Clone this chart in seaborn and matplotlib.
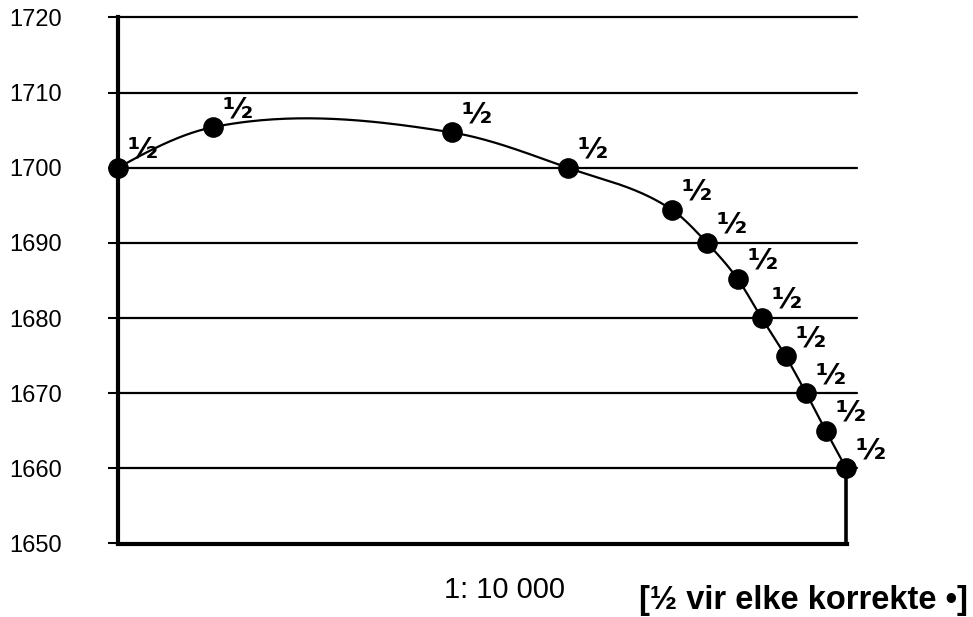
import numpy as np
import matplotlib
matplotlib.use("Agg")
import matplotlib.pyplot as plt
import seaborn as sns
import pandas as pd

# Data
distance = [0.0, 1.30, 4.58, 6.17, 7.60, 8.08, 8.50, 8.83, 9.16, 9.44, 9.71, 9.99]
height = [1700.0, 1705.4, 1704.7, 1700.0, 1694.4, 1690.0, 1685.2, 1680.0, 1674.9, 1670.0, 1665.0, 1660.0]
point_labels = ["½"] * len(distance)
y_ticks = [1650, 1660, 1670, 1680, 1690, 1700, 1710, 1720]
scale_text = "1: 10 000"
mark_text = "[½ vir elke korrekte •]"

sns.set_theme(style="white")
plt.rcParams['font.family'] = ['Liberation Sans', 'DejaVu Sans']
plt.rcParams['text.color'] = 'black'
plt.rcParams['ytick.color'] = 'black'
plt.rcParams['ytick.labelcolor'] = 'black'

df = pd.DataFrame({"distance": distance, "height": height})


def smooth_curve(x, y, per_seg=60):
    """Cubic Hermite curve through the points (mean-of-secants tangents)."""
    x = np.asarray(x, float)
    y = np.asarray(y, float)
    h = np.diff(x)
    d = np.diff(y) / h
    k = len(x)
    m = np.zeros(k)
    for i in range(1, k - 1):
        m[i] = 0.5 * (d[i - 1] + d[i])
    m[0] = ((2 * h[0] + h[1]) * d[0] - h[0] * d[1]) / (h[0] + h[1])
    m[-1] = d[-1]
    xs_all, ys_all = [], []
    for i in range(k - 1):
        t = np.linspace(0, 1, per_seg)
        h00 = 2 * t ** 3 - 3 * t ** 2 + 1
        h10 = t ** 3 - 2 * t ** 2 + t
        h01 = -2 * t ** 3 + 3 * t ** 2
        h11 = t ** 3 - t ** 2
        xs_all.append(x[i] + t * h[i])
        ys_all.append(h00 * y[i] + h10 * h[i] * m[i] + h01 * y[i + 1] + h11 * h[i] * m[i + 1])
    return np.concatenate(xs_all), np.concatenate(ys_all)


fig = plt.figure(figsize=(9.73, 6.17), dpi=100)
ax = fig.add_axes([118 / 973, 1 - 543.5 / 617, 729 / 973, 526 / 617])

ax.set_xlim(0, 10)
ax.set_ylim(1650, 1720)

for yv in y_ticks[1:]:
    ax.plot([0, 10.14], [yv, yv], color="black", lw=1.6, clip_on=False, zorder=1)

xs, ys = smooth_curve(distance, height)
sns.lineplot(x=xs, y=ys, ax=ax, color="black", lw=1.6, zorder=2, sort=False)
sns.scatterplot(data=df, x="distance", y="height", ax=ax, color="black", s=190,
                edgecolor="black", zorder=3, clip_on=False)

ax.plot([distance[-1], distance[-1]], [1650, height[-1]], color="black", lw=2.6,
        clip_on=False, zorder=2)

for xv, yv, lab in zip(distance, height, point_labels):
    ax.annotate(lab, (xv, yv), xytext=(7, 3), textcoords="offset points",
                fontsize=21, fontweight="bold", ha="left", va="bottom",
                family=['DejaVu Sans'], color="black", annotation_clip=False)

for s in ["top", "right"]:
    ax.spines[s].set_visible(False)
for s in ["left", "bottom"]:
    ax.spines[s].set_visible(True)
    ax.spines[s].set_color("black")
    ax.spines[s].set_linewidth(3)

ax.set_yticks(y_ticks)
ax.set_yticklabels([str(v) for v in y_ticks], fontsize=17)
ax.set_xticks([])
ax.tick_params(axis="y", direction="out", length=7.5, width=1.5, color="black",
               pad=33, left=True, labelcolor="black")
ax.set_xlabel("")
ax.set_ylabel("")
ax.grid(False)

fig.text(505 / 973, 1 - 590 / 617, scale_text, fontsize=21, ha="center", va="center",
         color="black")
fig.text(968 / 973, 1 - 601 / 617, mark_text, fontsize=23.5, fontweight="bold",
         ha="right", va="center", color="black",
         family=['Liberation Sans', 'DejaVu Sans'])

fig.savefig("out.png", dpi=100)
